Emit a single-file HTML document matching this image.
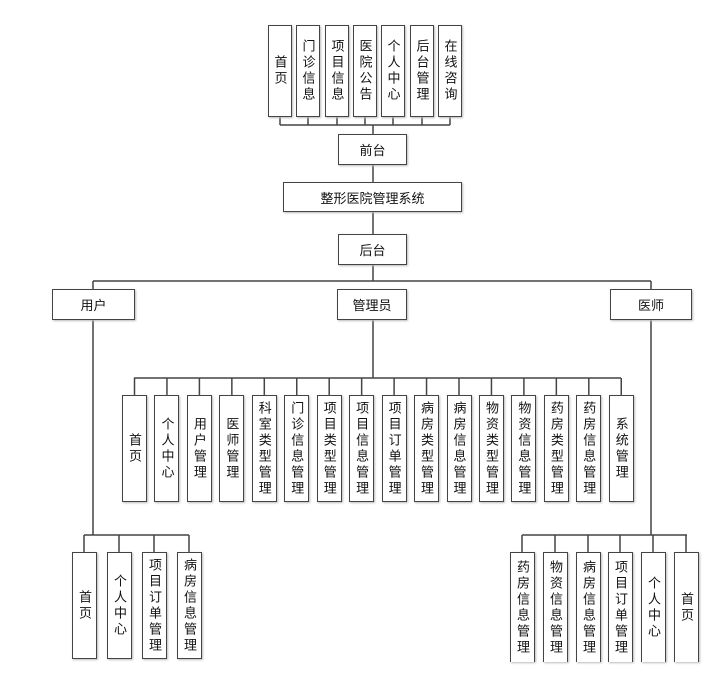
<!DOCTYPE html>
<html><head><meta charset="utf-8"><style>
body{margin:0;background:#fff;width:726px;height:692px;position:relative;overflow:hidden;font-family:"Liberation Sans","Noto Sans CJK SC",sans-serif;color:#111}
.b{position:absolute;box-sizing:border-box;border:1.5px solid #444;background:#fff;box-shadow:1px 1px 2px #bbb;display:flex;align-items:center;justify-content:center;font-size:13px}
.v{writing-mode:vertical-rl;text-orientation:upright;letter-spacing:3px;font-size:13px;line-height:1}
svg{position:absolute;left:0;top:0}
</style></head><body>
<svg width="726" height="692"><g stroke="#444" stroke-width="1.5" fill="none">
<path d="M280 117V125M308 117V125M337 117V125M365 117V125M393 117V125M422 117V125M450 117V125M280 125H450M373 125V134M373 165V182M373 212V234M373 265V281M93 281H651M93 281V289M651 281V289M93 320V535M651 320V535M373 320V378M134 378H621"/>
<path id="ad" d=""/>
<path d="M84 535H189M84 535V552M119 535V552M154 535V552M189 535V552M522 535H687M522 535V552M555 535V552M588 535V552M620 535V552M653 535V552M686 535V552"/>
</g><g stroke="#444" stroke-width="1.5" id="adl"></g></svg>
<div class="b" style="left:268px;top:25px;width:24px;height:92px"><span class="v">首页</span></div>
<div class="b" style="left:296px;top:25px;width:24px;height:92px"><span class="v">门诊信息</span></div>
<div class="b" style="left:325px;top:25px;width:24px;height:92px"><span class="v">项目信息</span></div>
<div class="b" style="left:353px;top:25px;width:24px;height:92px"><span class="v">医院公告</span></div>
<div class="b" style="left:381px;top:25px;width:24px;height:92px"><span class="v">个人中心</span></div>
<div class="b" style="left:410px;top:25px;width:24px;height:92px"><span class="v">后台管理</span></div>
<div class="b" style="left:438px;top:25px;width:24px;height:92px"><span class="v">在线咨询</span></div>
<div class="b" style="left:338px;top:134px;width:69px;height:31px">前台</div>
<div class="b" style="left:283px;top:182px;width:179px;height:30px">整形医院管理系统</div>
<div class="b" style="left:338px;top:234px;width:69px;height:31px">后台</div>
<div class="b" style="left:52px;top:289px;width:83px;height:31px">用户</div>
<div class="b" style="left:337px;top:289px;width:70px;height:31px">管理员</div>
<div class="b" style="left:610px;top:289px;width:82px;height:31px">医师</div>
<div id="adm"></div>
<div class="b" style="left:72px;top:552px;width:25px;height:107px"><span class="v">首页</span></div>
<div class="b" style="left:107px;top:552px;width:25px;height:107px"><span class="v">个人中心</span></div>
<div class="b" style="left:142px;top:552px;width:25px;height:107px"><span class="v">项目订单管理</span></div>
<div class="b" style="left:177px;top:552px;width:25px;height:107px"><span class="v">病房信息管理</span></div>
<div class="b" style="left:510px;top:552px;width:25px;height:110px;border-bottom:none"><span class="v">药房信息管理</span></div>
<div class="b" style="left:543px;top:552px;width:25px;height:110px;border-bottom:none"><span class="v">物资信息管理</span></div>
<div class="b" style="left:576px;top:552px;width:25px;height:110px;border-bottom:none"><span class="v">病房信息管理</span></div>
<div class="b" style="left:608px;top:552px;width:25px;height:110px;border-bottom:none"><span class="v">项目订单管理</span></div>
<div class="b" style="left:641px;top:552px;width:25px;height:110px;border-bottom:none"><span class="v">个人中心</span></div>
<div class="b" style="left:674px;top:552px;width:25px;height:110px;border-bottom:none"><span class="v">首页</span></div>
<script>
var t=["首页","个人中心","用户管理","医师管理","科室类型管理","门诊信息管理","项目类型管理","项目信息管理","项目订单管理","病房类型管理","病房信息管理","物资类型管理","物资信息管理","药房类型管理","药房信息管理","系统管理"];
var h="",l="";
for(var i=0;i<16;i++){var x=122+i*32.45;
h+='<div class="b" style="left:'+x+'px;top:395px;width:25px;height:107px"><span class="v">'+t[i]+'</span></div>';
var c=x+12.5;l+='<line x1="'+c+'" y1="378" x2="'+c+'" y2="395"/>';}
document.getElementById("adm").innerHTML=h;
document.getElementById("adl").innerHTML=l;
</script>
</body></html>
